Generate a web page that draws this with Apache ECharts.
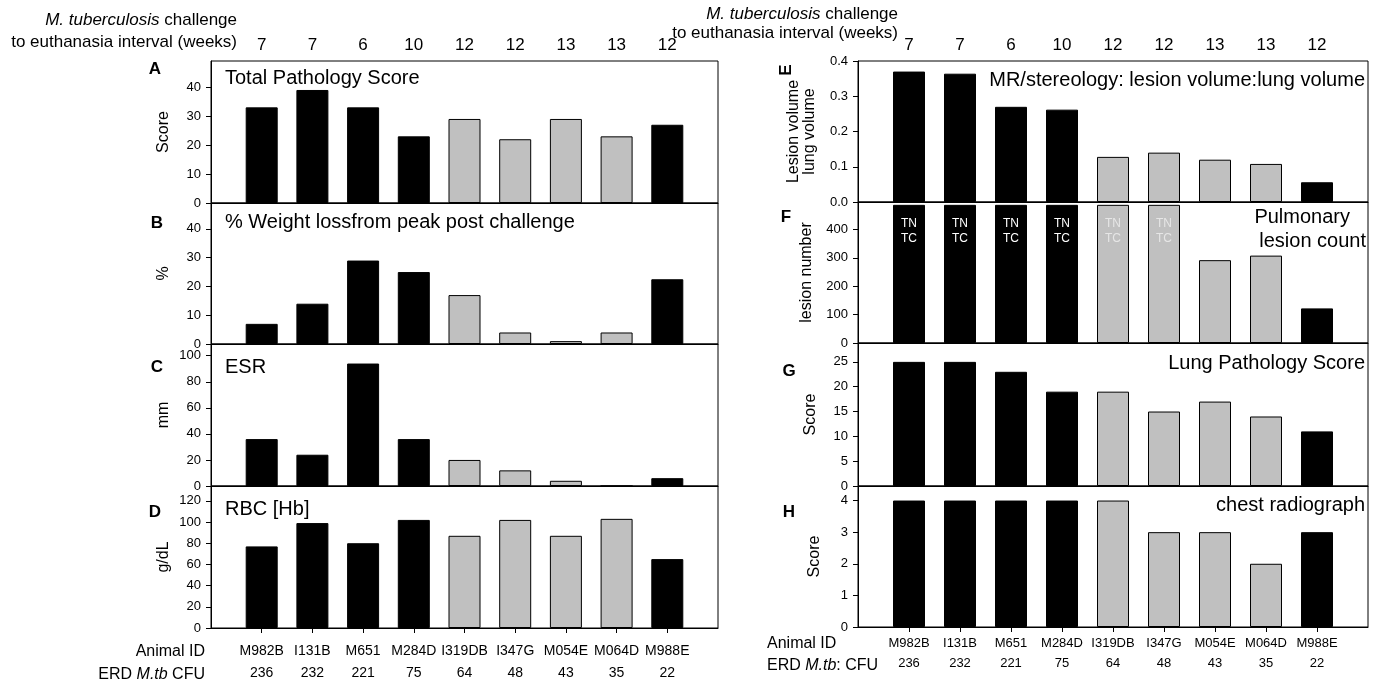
<!DOCTYPE html>
<html>
<head>
<meta charset="utf-8">
<script src="https://cdn.jsdelivr.net/npm/echarts@6/dist/echarts.min.js"></script>
<style>
html,body{margin:0;padding:0;background:#fff;}
#chart{width:1379px;height:681px;}
</style>
</head>
<body>
<div id="chart"></div>
<script>
// ---- data ----
const animalIds = ['M982B','I131B','M651','M284D','I319DB','I347G','M054E','M064D','M988E'];
const weeks = [7,7,6,10,12,12,13,13,12];
const cfu = [236,232,221,75,64,48,43,35,22];
const isGray = [false,false,false,false,true,true,true,true,false];

const totalPathology = [33,39,33,23,29,22,29,23,27];
const weightLoss = [7,14,29,25,17,4,1,4,22.5];
const esr = [36,24,94,36,20,12,4,0,6];
const rbc = [77,99,80,102,87,102,87,103,65];
const lesionRatio = [0.37,0.364,0.27,0.262,0.128,0.14,0.12,0.108,0.056];
const lesionCount = [487,487,487,487,487,487,292,308,122];
const tntc = [true,true,true,true,true,true,false,false,false];
const lungPathology = [25,25,23,19,19,15,17,14,11];
const chestRadiograph = [4,4,4,4,4,3,3,2,3];

const ticksA = [0,10,20,30,40];
const ticksB = [0,10,20,30,40];
const ticksC = [0,20,40,60,80,100];
const ticksD = [0,20,40,60,80,100,120];
const ticksE = [0,0.1,0.2,0.3,0.4];
const ticksF = [0,100,200,300,400];
const ticksG = [0,5,10,15,20,25];
const ticksH = [0,1,2,3,4];

// ---- layout ----
const FONT = '"Liberation Sans",Arial,sans-serif';
const BLACK = '#000000';
const GRAY = '#c0c0c0';

const panels = [
  {data: totalPathology, ticks: ticksA, max: 49, name: 'Score', grid: {left:211, top:61, width:507, height:142}, nameGap: 39},
  {data: weightLoss, ticks: ticksB, max: 49, name: '%', grid: {left:211, top:203, width:507, height:141}, nameGap: 39},
  {data: esr, ticks: ticksC, max: 109, name: 'mm', grid: {left:211, top:344, width:507, height:142}, nameGap: 39},
  {data: rbc, ticks: ticksD, max: 134, name: 'g/dL', grid: {left:211, top:486, width:507, height:142}, nameGap: 39},
  {data: lesionRatio, ticks: ticksE, max: 0.4, name: 'Lesion volume\nlung volume', grid: {left:858, top:61, width:510, height:141}, nameGap: 40},
  {data: lesionCount, ticks: ticksF, max: 497, name: 'lesion number', grid: {left:858, top:202, width:510, height:141}, nameGap: 43},
  {data: lungPathology, ticks: ticksG, max: 28.8, name: 'Score', grid: {left:858, top:343, width:510, height:143}, nameGap: 39},
  {data: chestRadiograph, ticks: ticksH, max: 4.46, name: 'Score', grid: {left:858, top:486, width:510, height:141}, nameGap: 35}
];
panels[4].fmt = v => v.toFixed(1);

const idx = animalIds.map((_, i) => i);
const grids = [], xAxes = [], yAxes = [], series = [];

panels.forEach((p, k) => {
  grids.push(Object.assign({show: true, borderColor: BLACK, borderWidth: 1, containLabel: false}, p.grid));
  const bottom = (k === 3 || k === 7);
  xAxes.push({
    type: 'value', gridIndex: k, min: -1, max: 9, position: 'bottom',
    axisLine: {show: true, onZero: false, lineStyle: {color: BLACK, width: 1}},
    splitLine: {show: false},
    axisTick: {show: bottom, customValues: idx, length: 5, lineStyle: {color: BLACK}},
    axisLabel: {show: bottom, customValues: idx, formatter: v => animalIds[Math.round(v)] || '',
      fontFamily: FONT, fontSize: k === 3 ? 14 : 13, color: BLACK, margin: k === 3 ? 16 : 10}
  });
  yAxes.push({
    type: 'value', gridIndex: k, min: 0, max: p.max, position: 'left',
    name: p.name, nameLocation: 'middle', nameGap: p.nameGap, nameRotate: 90,
    nameTextStyle: {fontFamily: FONT, fontSize: 16, color: BLACK, lineHeight: 16},
    axisLine: {show: true, onZero: false, lineStyle: {color: BLACK, width: 1}},
    splitLine: {show: false},
    axisTick: {show: true, customValues: p.ticks, length: 5, lineStyle: {color: BLACK}},
    axisLabel: {customValues: p.ticks, formatter: p.fmt || (v => String(v)), fontFamily: FONT, fontSize: 13, color: BLACK, margin: 10}
  });
  series.push({
    type: 'bar', xAxisIndex: k, yAxisIndex: k, barWidth: 32,
    data: p.data.map((v, i) => ({
      value: [i, v],
      itemStyle: {color: isGray[i] ? GRAY : BLACK, borderColor: BLACK, borderWidth: 1},
      label: k === 5 ? {show: tntc[i], color: isGray[i] ? '#e6e6e6' : '#ffffff'} : {show: false}
    })),
    label: {show: false, position: 'insideTop', distance: 11, formatter: 'TN\nTC', fontFamily: FONT, fontSize: 12, lineHeight: 15},
    animation: false
  });
});

// week numbers (top) and CFU (bottom) axes
[0, 4].forEach(g => xAxes.push({
  type: 'value', gridIndex: g, min: -1, max: 9, position: 'top',
  axisLine: {show: false}, axisTick: {show: false}, splitLine: {show: false},
  axisLabel: {customValues: idx, formatter: v => String(weeks[Math.round(v)]), fontFamily: FONT, fontSize: 17, color: BLACK, margin: 7}
}));
[[3, 38, 14], [7, 30, 13]].forEach(([g, m, fs]) => xAxes.push({
  type: 'value', gridIndex: g, min: -1, max: 9, position: 'bottom',
  axisLine: {show: false}, axisTick: {show: false}, splitLine: {show: false},
  axisLabel: {customValues: idx, formatter: v => String(cfu[Math.round(v)]), fontFamily: FONT, fontSize: fs, color: BLACK, margin: m}
}));

function txt(text, x, y, opts) {
  return {type: 'text', x: x, y: y, silent: true, rotation: (opts && opts.rotation) || 0,
    style: Object.assign({text: text, fill: BLACK, fontFamily: FONT, fontSize: 17, align: 'left', verticalAlign: 'middle'}, opts && opts.style)};
}
const italic17 = {i: {fontStyle: 'italic', fontFamily: FONT, fontSize: 17, fill: BLACK}};
const italic16 = {i: {fontStyle: 'italic', fontFamily: FONT, fontSize: 16, fill: BLACK}};
const letter = {fontFamily: FONT, fontWeight: 'bold', fontSize: 17, align: 'center'};

const graphics = [
  // headers
  txt('{i|M. tuberculosis} challenge', 237, 20, {style: {align: 'right', rich: italic17}}),
  txt('to euthanasia interval (weeks)', 237, 42, {style: {align: 'right'}}),
  txt('{i|M. tuberculosis} challenge', 898, 14, {style: {align: 'right', rich: italic17}}),
  txt('to euthanasia interval (weeks)', 898, 33, {style: {align: 'right'}}),
  // panel letters
  txt('A', 155, 69, {style: letter}),
  txt('B', 157, 223, {style: letter}),
  txt('C', 157, 367, {style: letter}),
  txt('D', 155, 512, {style: letter}),
  txt('E', 786, 70, {rotation: Math.PI / 2, style: letter}),
  txt('F', 786, 217, {style: letter}),
  txt('G', 789, 371, {style: letter}),
  txt('H', 789, 512, {style: letter}),
  // panel titles
  txt('Total Pathology Score', 225, 78, {style: {fontSize: 20}}),
  txt('% Weight lossfrom peak post challenge', 225, 222, {style: {fontSize: 20}}),
  txt('ESR', 225, 367, {style: {fontSize: 20}}),
  txt('RBC [Hb]', 225, 509, {style: {fontSize: 20}}),
  txt('MR/stereology: lesion volume:lung volume', 1365, 80, {style: {fontSize: 20, align: 'right'}}),
  txt('Pulmonary', 1350, 217, {style: {fontSize: 20, align: 'right'}}),
  txt('lesion count', 1366, 241, {style: {fontSize: 20, align: 'right'}}),
  txt('Lung Pathology Score', 1365, 363, {style: {fontSize: 20, align: 'right'}}),
  txt('chest radiograph', 1365, 505, {style: {fontSize: 20, align: 'right'}}),
  // row labels
  txt('Animal ID', 205, 652, {style: {align: 'right', fontSize: 16}}),
  txt('ERD {i|M.tb} CFU', 205, 675, {style: {align: 'right', fontSize: 16, rich: italic16}}),
  txt('Animal ID', 767, 644, {style: {align: 'left', fontSize: 16}}),
  txt('ERD {i|M.tb}: CFU', 767, 666, {style: {align: 'left', fontSize: 16, rich: italic16}})
];

const chart = echarts.init(document.getElementById('chart'), null, {renderer: 'canvas'});
chart.setOption({
  backgroundColor: '#ffffff',
  animation: false,
  grid: grids,
  xAxis: xAxes,
  yAxis: yAxes,
  series: series,
  graphic: graphics
});
</script>
</body>
</html>
